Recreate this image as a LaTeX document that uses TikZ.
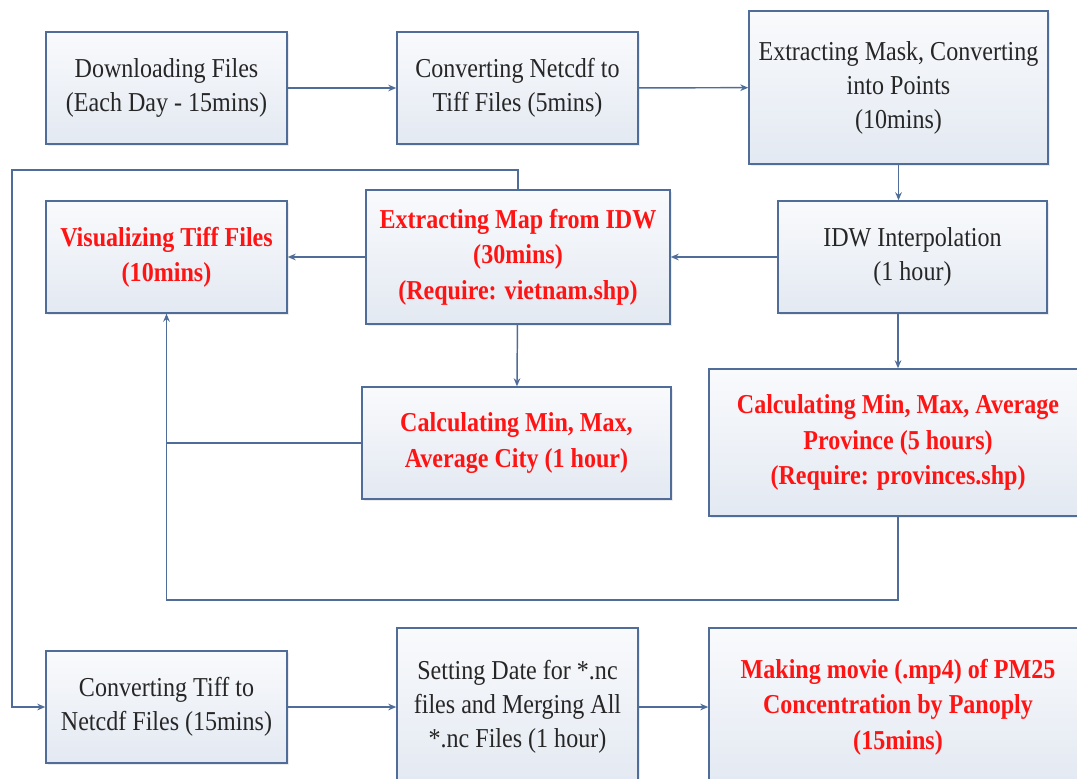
\documentclass[tikz,border=0pt]{standalone}
\usepackage{fontspec}
\setmainfont[FakeStretch=0.88]{Liberation Serif}
\usepackage{tikz}
\usetikzlibrary{arrows.meta,shadows}
\definecolor{edge}{HTML}{4F6D98}
\definecolor{boxtop}{HTML}{F9FAFC}
\definecolor{boxbot}{HTML}{E3E9F2}
\definecolor{hotred}{HTML}{FF1414}

\begin{document}
\begin{tikzpicture}[x=0.75pt,y=-0.75pt,
  blk/.style={rectangle,draw=edge,line width=1.1pt,top color=boxtop,bottom color=boxbot,
              drop shadow={opacity=0.15,shadow xshift=1.5pt,shadow yshift=-1.5pt},
              minimum width=180.75pt,minimum height=84pt,inner sep=2pt,
              font=\fontsize{20.5}{25.5}\selectfont,align=center,text=black!85},
  hot/.style={blk,font=\fontsize{20.5}{26.5}\selectfont\bfseries,text=hotred},
  lnk/.style={line width=1.1pt,color=edge},
  arr/.style={lnk,-{Stealth[length=6pt,width=5pt]}}
]
  \clip (0,0) rectangle (1077,778);

  % top row
  \node[blk] (dl)   at (166.5,88) {Downloading Files\\(Each Day - 15mins)};
  \node[blk] (conv) at (517.5,88) {Converting Netcdf to\\Tiff Files (5mins)};
  \node[blk,minimum width=224.25pt,minimum height=114.75pt] (mask) at (898.5,87.5)
        {Extracting Mask, Converting\\into Points\\(10mins)};

  % second row
  \node[blk,minimum width=201.75pt] (idw) at (912.5,257) {IDW Interpolation\\(1 hour)};
  \node[hot,minimum width=228pt,minimum height=100.5pt] (map) at (518,257)
        {Extracting Map from IDW\\(30mins)\\(Require: vietnam.shp)};
  \node[hot] (vis) at (166.5,257) {Visualizing Tiff Files\\(10mins)};

  % statistics
  \node[hot,minimum width=231.75pt] (city) at (516.5,443) {Calculating Min, Max,\\Average City (1 hour)};
  \node[hot,minimum width=283.5pt,minimum height=110.25pt] (prov) at (898,442.5)
        {Calculating Min, Max, Average\\Province (5 hours)\\(Require: provinces.shp)};

  % bottom row
  \node[blk] (tiffnc) at (166.5,707) {Converting Tiff to\\Netcdf Files (15mins)};
  \node[blk,minimum height=118.5pt] (setdate) at (517.5,707)
        {Setting Date for *.nc\\files and Merging All\\*.nc Files (1 hour)};
  \node[hot,minimum width=283.5pt,minimum height=118.5pt] (movie) at (898,707)
        {Making movie (.mp4) of PM25\\Concentration by Panoply\\(15mins)};

  \coordinate (lp) at (12,170);
  \coordinate (fb) at (166.5,600);

  \draw[arr] (dl)   -- (conv);
  \draw[arr] (conv) -- (mask);
  \draw[arr] (mask.south) -- (mask.south |- idw.north);
  \draw[arr] (idw)  -- (map);
  \draw[arr] (map)  -- (vis);
  \draw[arr] (map)  -- (city);
  \draw[arr] (prov.north |- idw.south) -- (prov.north);
  \draw[lnk] (city.west) -| (vis.south);
  \draw[arr] (prov.south) |- (fb) -- (vis.south);
  \draw[arr] (map.north) |- (lp) |- (tiffnc.west);
  \draw[arr] (tiffnc) -- (setdate);
  \draw[arr] (setdate) -- (movie);
\end{tikzpicture}
\end{document}
